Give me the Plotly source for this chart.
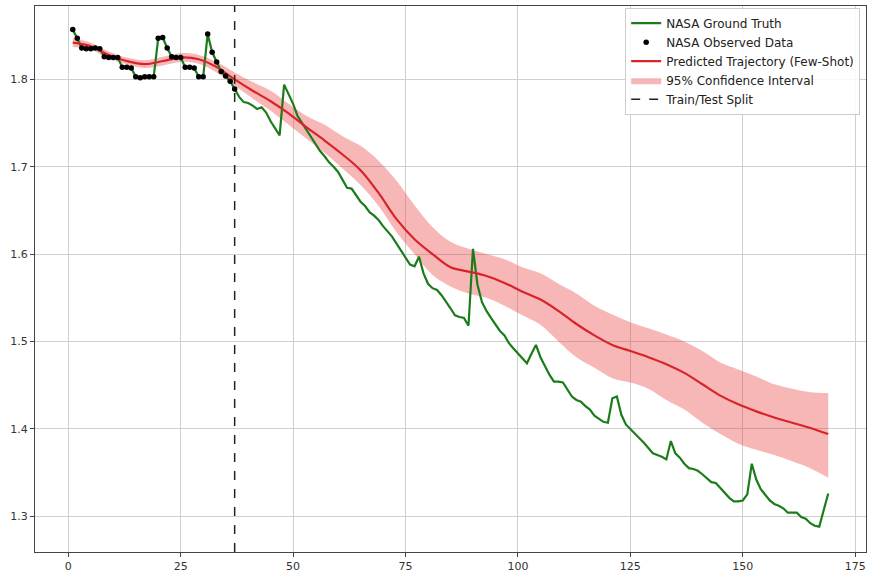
import plotly.graph_objects as go

# ---- NASA battery capacity (Ah) per cycle ----
cycles = list(range(1, 170))
ground_truth = [
    1.857, 1.847, 1.836, 1.835, 1.835, 1.836, 1.835, 1.826, 1.825, 1.825,
    1.825, 1.814, 1.814, 1.813, 1.803, 1.802, 1.803, 1.803, 1.803, 1.847,
    1.848, 1.836, 1.826, 1.825, 1.825, 1.814, 1.814, 1.813, 1.803, 1.803,
    1.852, 1.831, 1.820, 1.809, 1.804, 1.798, 1.789, 1.780, 1.774, 1.773,
    1.770, 1.766, 1.768, 1.762, 1.752, 1.744, 1.736, 1.794, 1.783, 1.772,
    1.758, 1.750, 1.742, 1.735, 1.726, 1.718, 1.712, 1.705, 1.700, 1.694,
    1.685, 1.676, 1.675, 1.668, 1.660, 1.655, 1.648, 1.644, 1.639, 1.632,
    1.626, 1.620, 1.612, 1.604, 1.596, 1.588, 1.586, 1.597, 1.578, 1.566,
    1.561, 1.559, 1.553, 1.546, 1.538, 1.530, 1.528, 1.527, 1.518, 1.606,
    1.565, 1.545, 1.535, 1.527, 1.520, 1.512, 1.507, 1.498, 1.492, 1.486,
    1.481, 1.475, 1.486, 1.496, 1.482, 1.471, 1.462, 1.454, 1.454, 1.453,
    1.445, 1.437, 1.433, 1.431, 1.426, 1.422, 1.415, 1.412, 1.408, 1.407,
    1.435, 1.437, 1.416, 1.405, 1.400, 1.394, 1.389, 1.384, 1.378, 1.372,
    1.370, 1.368, 1.365, 1.386, 1.372, 1.367, 1.360, 1.355, 1.354, 1.352,
    1.348, 1.343, 1.339, 1.338, 1.332, 1.327, 1.321, 1.317, 1.317, 1.318,
    1.325, 1.360, 1.342, 1.331, 1.324, 1.318, 1.314, 1.312, 1.309, 1.304,
    1.304, 1.304, 1.299, 1.297, 1.292, 1.289, 1.288, 1.307, 1.326,
]

# train/test split cycle; observed data are the cycles up to the split
split_cycle = 37
observed_cycles = cycles[:split_cycle]
observed_capacity = ground_truth[:split_cycle]

# ---- few-shot prediction with 95% confidence band ----
pred_cycles = [1, 5, 9, 13, 17, 21, 25, 29, 33, 37, 41, 45, 49, 53, 57, 61,
               65, 69, 73, 77, 81, 85, 89, 93, 97, 101, 105, 109, 113, 117,
               121, 125, 129, 133, 137, 141, 145, 149, 153, 157, 161, 165, 169]
pred_mean = [1.842, 1.838, 1.828, 1.821, 1.8175, 1.821, 1.825, 1.823, 1.814,
             1.800, 1.787, 1.775, 1.761, 1.745, 1.730, 1.714, 1.696, 1.670,
             1.640, 1.617, 1.600, 1.585, 1.580, 1.575, 1.567, 1.557, 1.548,
             1.535, 1.520, 1.507, 1.496, 1.489, 1.482, 1.474, 1.464, 1.451,
             1.438, 1.428, 1.420, 1.413, 1.407, 1.401, 1.394]
pred_upper = [1.847, 1.842, 1.832, 1.825, 1.822, 1.826, 1.830, 1.828, 1.820,
              1.808, 1.797, 1.787, 1.772, 1.758, 1.748, 1.735, 1.724, 1.707,
              1.684, 1.656, 1.631, 1.614, 1.606, 1.600, 1.594, 1.585, 1.578,
              1.566, 1.555, 1.541, 1.531, 1.522, 1.515, 1.508, 1.500, 1.489,
              1.476, 1.468, 1.460, 1.451, 1.446, 1.442, 1.441]
pred_lower = [1.837, 1.834, 1.824, 1.817, 1.813, 1.816, 1.820, 1.818, 1.808,
              1.793, 1.778, 1.764, 1.748, 1.732, 1.716, 1.698, 1.679, 1.655,
              1.625, 1.600, 1.576, 1.563, 1.555, 1.550, 1.541, 1.530, 1.519,
              1.500, 1.482, 1.470, 1.458, 1.453, 1.446, 1.433, 1.422, 1.407,
              1.394, 1.383, 1.376, 1.370, 1.363, 1.355, 1.344]

y_range = [1.259, 1.884]
x_range = [-7.4, 177.4]

GREEN = "#1c7c1c"
RED = "#d8232a"
BAND = "rgba(232, 55, 55, 0.36)"

fig = go.Figure()

# confidence band (lower edge, then upper edge filled down to it)
fig.add_trace(go.Scatter(
    x=pred_cycles, y=pred_lower, mode="lines",
    line=dict(width=0, shape="spline", color=BAND),
    showlegend=False, hoverinfo="skip",
))
fig.add_trace(go.Scatter(
    x=pred_cycles, y=pred_upper, mode="lines",
    line=dict(width=0, shape="spline", color=BAND),
    fill="tonexty", fillcolor=BAND,
    name="95% Confidence Interval", legendrank=4,
))

fig.add_trace(go.Scatter(
    x=cycles, y=ground_truth, mode="lines",
    line=dict(color=GREEN, width=2.2),
    name="NASA Ground Truth", legendrank=1,
))

fig.add_trace(go.Scatter(
    x=pred_cycles, y=pred_mean, mode="lines",
    line=dict(color=RED, width=2.2, shape="spline"),
    name="Predicted Trajectory (Few-Shot)", legendrank=3,
))

fig.add_trace(go.Scatter(
    x=observed_cycles, y=observed_capacity, mode="markers",
    marker=dict(color="black", size=5.5),
    name="NASA Observed Data", legendrank=2,
))

fig.add_trace(go.Scatter(
    x=[split_cycle, split_cycle], y=y_range, mode="lines",
    line=dict(color="#222222", width=1.5, dash="dash"),
    name="Train/Test Split", legendrank=5,
))

axis_common = dict(
    showgrid=True, gridcolor="#cfcfcf", gridwidth=1,
    showline=True, linecolor="#444444", linewidth=1, mirror=True,
    ticks="outside", ticklen=4, tickcolor="#444444",
    tickfont=dict(family="DejaVu Sans", size=11, color="#333333"),
    zeroline=False,
)

fig.update_layout(
    width=875, height=578,
    margin=dict(l=35, r=9, t=5, b=21),
    paper_bgcolor="white", plot_bgcolor="white",
    font=dict(family="DejaVu Sans", size=12, color="#222222"),
    xaxis=dict(range=x_range, tick0=0, dtick=25, **axis_common),
    yaxis=dict(range=y_range, tick0=1.3, dtick=0.1, tickformat=".1f",
               **axis_common),
    legend=dict(
        x=0.993, y=0.997, xanchor="right", yanchor="top",
        traceorder="normal",
        bgcolor="rgba(255,255,255,0.85)", bordercolor="#cccccc",
        borderwidth=1, font=dict(family="DejaVu Sans", size=12,
                                 color="#222222"),
        tracegroupgap=0, itemwidth=30,
    ),
    showlegend=True,
)

fig.write_html("out.html")
